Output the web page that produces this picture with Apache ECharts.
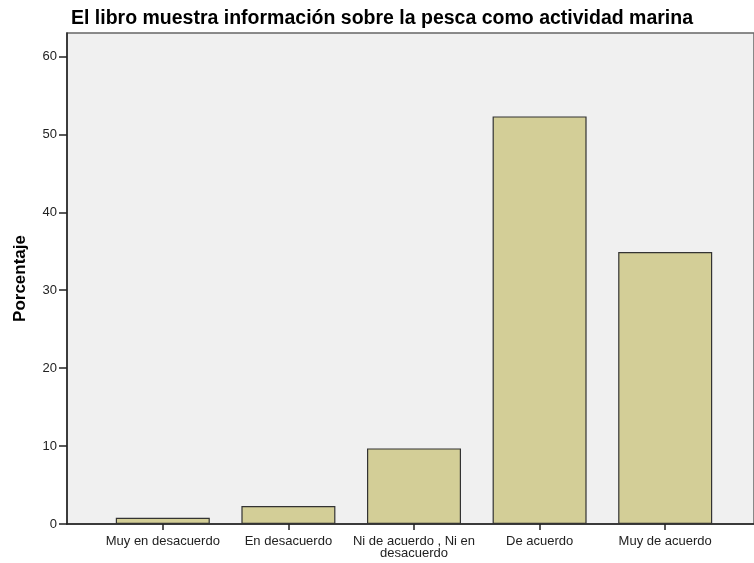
<!DOCTYPE html>
<html>
<head>
<meta charset="utf-8">
<script src="https://cdn.jsdelivr.net/npm/echarts@6/dist/echarts.min.js"></script>
<style>
  html, body { margin: 0; padding: 0; background: #fff; }
  #chart { width: 754px; height: 563px; }
</style>
</head>
<body>
<div id="chart"></div>
<script>
const categories = ['Muy en desacuerdo', 'En desacuerdo', 'Ni de acuerdo , Ni en\ndesacuerdo', 'De acuerdo', 'Muy de acuerdo']
const percentages = [0.8, 2.3, 9.7, 52.3, 34.9]
const yTicks = [0, 10, 20, 30, 40, 50, 60]
const yMax = 63

const chart = echarts.init(document.getElementById('chart'))
const font = 'Liberation Sans, Arial, sans-serif'

chart.setOption({
  animation: false,
  title: {
    text: 'El libro muestra información sobre la pesca como actividad marina',
    left: 66, top: 4,
    textStyle: { fontFamily: font, fontSize: 19.5, fontWeight: 'bold', color: '#000' },
  },
  grid: [
    // frame + background
    { left: 67, right: -2, top: 33, bottom: 39, show: true, backgroundColor: '#f0f0f0', borderColor: '#666', borderWidth: 1.5 },
    // bars
    { left: 100, right: 26, top: 33, bottom: 39 },
  ],
  xAxis: [
    {
      gridIndex: 0, type: 'value', min: 0, max: 1,
      axisLine: { show: true, lineStyle: { color: '#222', width: 1.5 } },
      axisTick: { show: false }, axisLabel: { show: false }, splitLine: { show: false },
    },
    {
      gridIndex: 1, type: 'category', data: categories,
      axisLine: { show: false },
      axisTick: { show: true, alignWithLabel: true, length: 6, lineStyle: { color: '#222', width: 1.5 } },
      axisLabel: { fontFamily: font, fontSize: 13, color: '#222', margin: 11, lineHeight: 12, interval: 0 },
    },
  ],
  yAxis: [
    {
      gridIndex: 0, type: 'value', min: 0, max: yMax,
      name: 'Porcentaje', nameLocation: 'middle', nameGap: 38, nameRotate: 90,
      nameTextStyle: { fontFamily: font, fontSize: 17, fontWeight: 'bold', color: '#000' },
      axisLine: { show: true, lineStyle: { color: '#222', width: 1.5 } },
      axisTick: { show: true, length: 8, customValues: yTicks, lineStyle: { color: '#222', width: 1.5 } },
      axisLabel: { fontFamily: font, fontSize: 13, color: '#222', margin: 10, customValues: yTicks },
      splitLine: { show: false },
    },
    {
      gridIndex: 1, type: 'value', min: 0, max: yMax, show: false,
    },
  ],
  series: [{
    type: 'bar', xAxisIndex: 1, yAxisIndex: 1,
    data: percentages, barWidth: 94,
    itemStyle: { color: '#d3ce97', borderColor: '#333', borderWidth: 1.2 },
  }],
})
</script>
</body>
</html>
